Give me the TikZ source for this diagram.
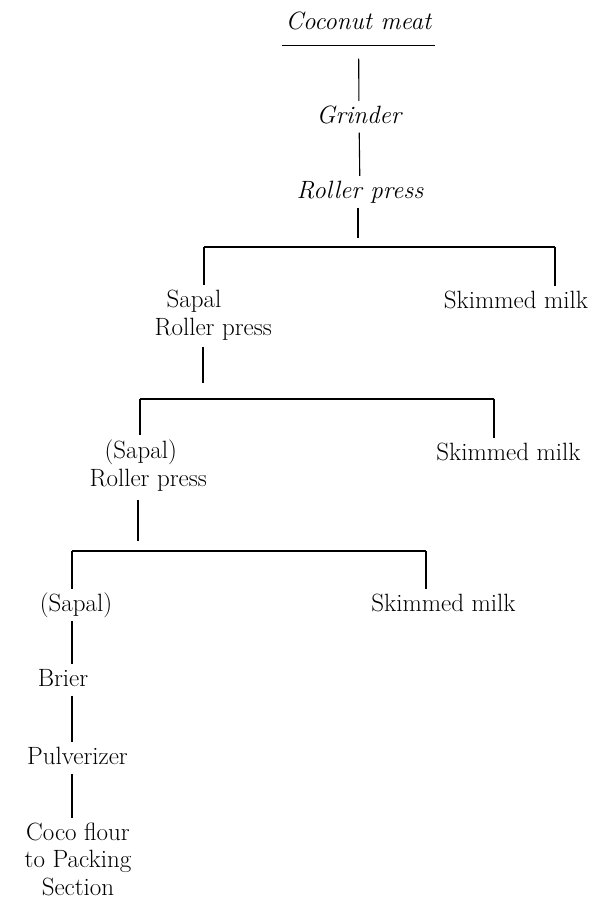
\documentclass[tikz,border=0pt]{standalone}
\usepackage{tikz}

\begin{document}
\begin{tikzpicture}[x=1pt, y=-1pt, line width=1.1pt,
	every node/.style={font=\fontsize{25}{27.5}\selectfont, inner sep=4pt, anchor=base},
	lbl/.style={text height=17.5pt, text depth=5pt},
	itl/.style={lbl, font=\fontsize{25}{27.5}\selectfont\itshape}]
	\useasboundingbox (0,0) rectangle (613,899);

	% Nodes {meat, grind, rp, sap1, milk1, etc}
	\node [itl, inner ysep=10pt, inner xsep=3.5pt]	(meat)	at (358.5,30)	{Coconut meat};
	\node [itl]		(grind)	at (359,123)	{Grinder};
	\node [itl]		(rp)	at (360,198)	{Roller press};
	\node [align=left, anchor=base west]	(sap1)	at (150,335)	{\hspace*{12pt}Sapal\\Roller press};
	\node [lbl]		(milk1)	at (516,308)	{Skimmed milk};
	\node [align=left, anchor=base west]	(sap2)	at (85,486)	{\hspace*{15pt}(Sapal)\\Roller press};
	\node [lbl]		(milk2)	at (508.5,460)	{Skimmed milk};
	\node [lbl]		(sap3)	at (76,611)		{(Sapal)};
	\node [lbl]		(milk3)	at (443.5,611)	{Skimmed milk};
	\node [lbl]		(brier)	at (63,686)		{Brier};
	\node [lbl]		(pulv)	at (77.5,764)	{Pulverizer};
	\node [align=center]	(flour)	at (78,895)	{Coco flour\\to Packing\\Section};

	% Bars
	\coordinate (t1) at (358,247);	\coordinate (l1) at (204,247);	\coordinate (r1) at (555,247);
	\coordinate (t2) at (203,399);	\coordinate (l2) at (140,399);	\coordinate (r2) at (494,399);
	\coordinate (t3) at (138,551);	\coordinate (l3) at (72,551);	\coordinate (r3) at (426,551);

	% Paths
	\draw (meat.south west) -- (meat.south east);
	\draw [shorten <=13pt] (meat) -- (grind);
	\draw (grind) -- (rp);
	\draw [shorten >=9pt] (rp.south -| t1) -- (t1);
	\draw (l1) -- (r1);
	\draw (l1) -- (l1 |- sap1.north);
	\draw (r1) -- (r1 |- milk1.north);

	\draw [shorten <=3pt, shorten >=16pt] (sap1.south -| t2) -- (t2);
	\draw (l2) -- (r2);
	\draw (l2) -- (l2 |- sap2.north);
	\draw (r2) -- (r2 |- milk2.north);

	\draw [shorten <=5pt, shorten >=10pt] (sap2.south -| t3) -- (t3);
	\draw (l3) -- (r3);
	\draw (l3) -- (l3 |- sap3.north);
	\draw (r3) -- (r3 |- milk3.north);

	\draw (sap3.south -| l3) -- (brier.north -| l3);
	\draw (brier.south -| l3) -- (pulv.north -| l3);
	\draw (pulv.south -| l3) -- (flour.north -| l3);

\end{tikzpicture}
\end{document}
